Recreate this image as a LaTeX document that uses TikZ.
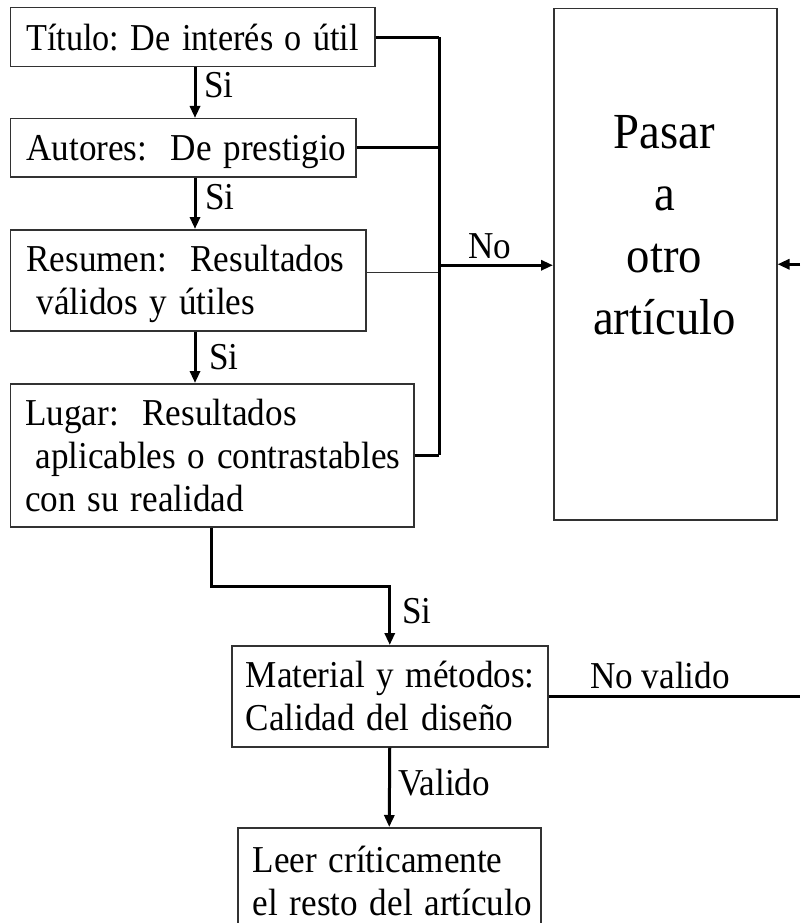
\documentclass[tikz,border=0pt]{standalone}
\usepackage{fontspec}
\usepackage{graphicx}
\setmainfont{Liberation Serif}
\usetikzlibrary{arrows.meta}
\definecolor{boxc}{RGB}{50,50,50}
\newcommand\zs{\rule[-8.5pt]{0pt}{43pt}}
\newcommand\tline[2][0.925]{\scalebox{#1}[1]{\zs #2}}
\newcommand\sq[1]{\scalebox{0.925}[1]{#1}}
\frenchspacing
\begin{document}
\begin{tikzpicture}[x=1pt,y=-1pt,
  box/.style={draw=boxc, line width=1.5pt, rectangle, inner xsep=16pt, inner ysep=0pt,
    align=left, anchor=north west, font=\fontsize{38}{43}\selectfont},
  conn/.style={line width=3pt},
  thinconn/.style={line width=1pt, draw=boxc},
  arr/.style={conn, -{Triangle[length=12pt,width=10pt]}},
  lbl/.style={font=\fontsize{38}{43}\selectfont, inner sep=0pt, anchor=base west}]
\clip (0,0) rectangle (800,923);
\fill[white] (0,0) rectangle (800,923);
% coordinates
\coordinate (ax) at (195,0);
\coordinate (bus) at (439,0);
\coordinate (lx) at (211,0);
\coordinate (jy) at (0,586);
\coordinate (redge) at (800,0);
% boxes
\node[box, text width=332.4pt, minimum height=59pt] (t1) at (9.6,7) {\tline[0.9]{Título: De interés o útil}};
\node[box, text width=313.4pt, minimum height=58pt] (t2) at (9.6,118) {\tline{Autores:\ \ De prestigio}};
\node[box, text width=323.4pt, minimum height=101pt] (t3) at (9.6,229) {\tline{Resumen:\ \ Resultados}\\\tline{\hspace*{11pt}válidos y útiles}};
\node[box, text width=373.4pt, inner xsep=15pt, minimum height=143pt] (t4) at (9.6,383) {\tline{Lugar:\ \ Resultados}\\\tline{\hspace*{11pt}aplicables o contrastables}\\\tline{con su realidad}};
\node[draw=boxc, line width=1.5pt, minimum width=223pt, minimum height=511pt, inner sep=0pt, anchor=north west] (pasar) at (553,8) {};
\node[font=\fontsize{50.5}{62}\selectfont, align=center, inner sep=0pt, anchor=north] (pasartxt) at (664.5,115) {\sq{Pasar}\\\sq{a}\\\sq{otro}\\\sq{artículo}};
\node[box, text width=288pt, inner xsep=14pt, minimum height=101pt] (mat) at (231,645) {\tline{Material y métodos:}\\\tline{Calidad del diseño}};
\node[box, text width=273pt, inner xsep=15pt, minimum height=106pt] (leer) at (237,827) {\tline{Leer críticamente}\\\tline{el resto del artículo}};
% connectors
\draw[arr] (t1.south -| ax) -- (t2.north -| ax);
\draw[arr] (t2.south -| ax) -- (t3.north -| ax);
\draw[arr] (t3.south -| ax) -- (t4.north -| ax);
\draw[conn] (t1.east) -- (t1.east -| bus);
\draw[conn] (t2.east) -- (t2.east -| bus);
\draw[thinconn] ([yshift=7.5pt]t3.east) -- ([yshift=7.5pt]t3.east -| bus);
\draw[conn] (t4.east) -- (t4.east -| bus);
\draw[conn] (t1.east -| bus) -- (t4.east -| bus);
\draw[arr] ([yshift=-1pt]pasar.west -| bus) -- ([yshift=-1pt]pasar.west);
\draw[arr] (pasar.east -| redge) -- (pasar.east);
\draw[arr] (t4.south -| lx) -- (lx |- jy) -| (mat.north);
\draw[conn] (mat.east) -- (mat.east -| redge);
\draw[arr] (mat.south) -- (leer.north);
% labels
\node[lbl] (si1) at (204,98) {\sq{Si}};
\node[lbl] (si2) at (205,209) {\sq{Si}};
\node[lbl] (si3) at (209,369) {\sq{Si}};
\node[lbl] (si4) at (402,623) {\sq{Si}};
\node[lbl] (no) at (468,258) {\sq{No}};
\node[lbl] (novalido) at (590,688) {\sq{No valido}};
\node[lbl] (valido) at (398,795) {\sq{Valido}};
\end{tikzpicture}
\end{document}
